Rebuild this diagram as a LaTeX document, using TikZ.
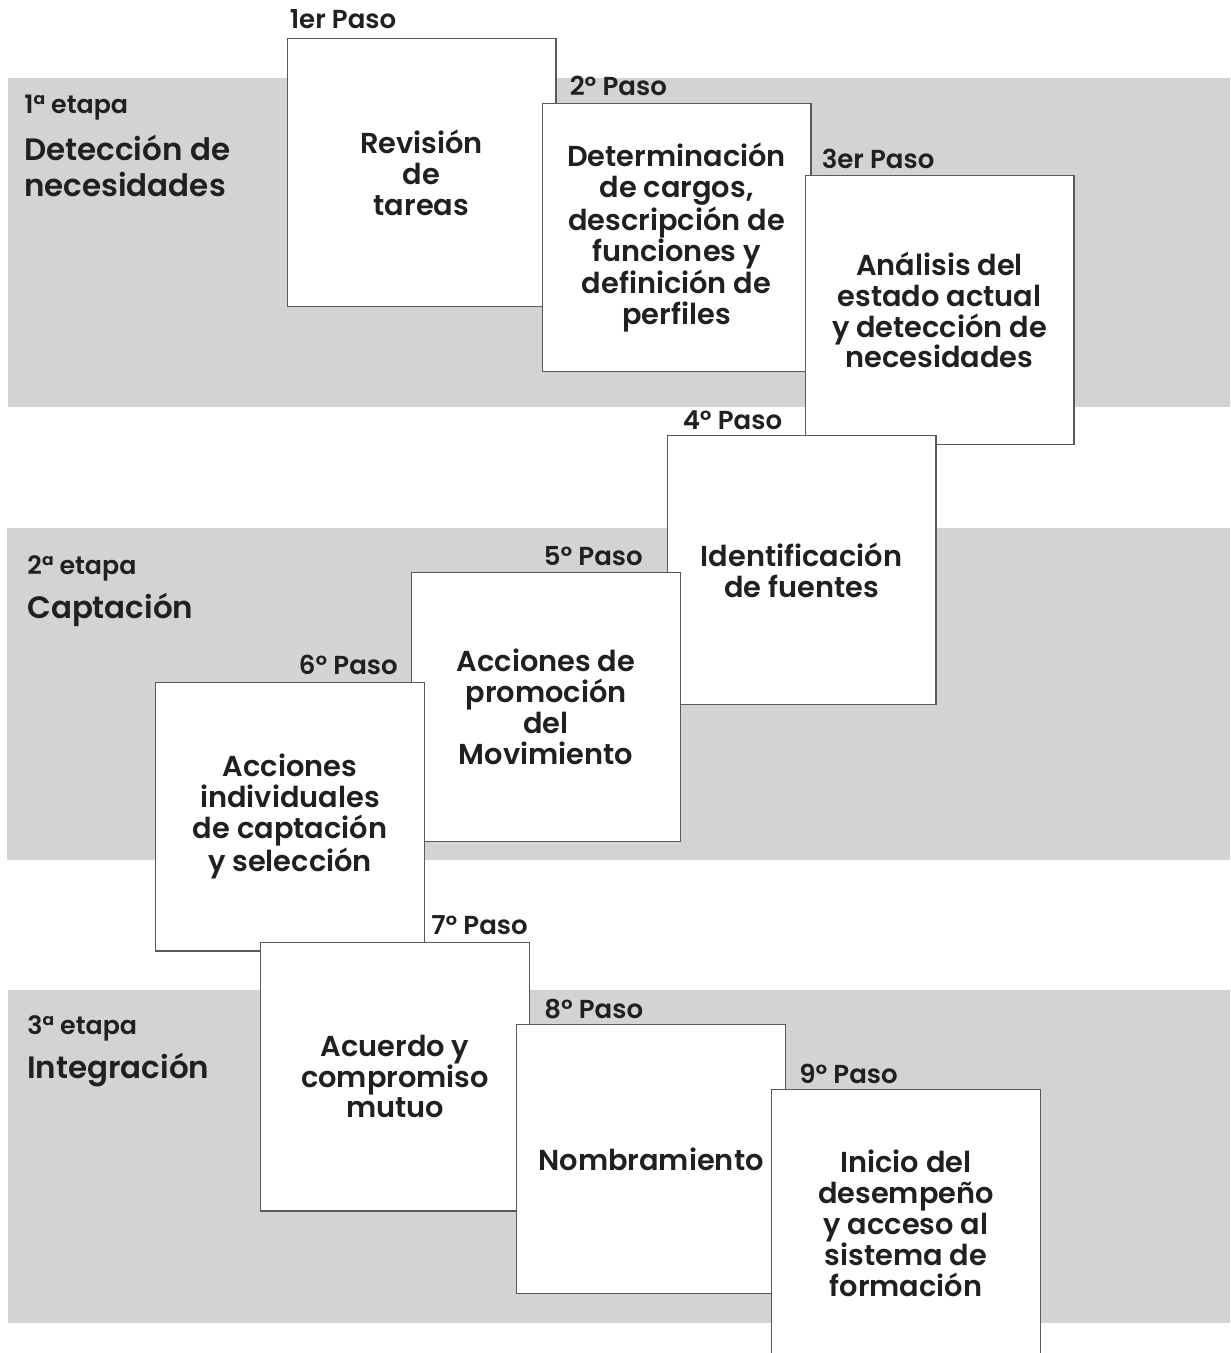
\documentclass[tikz,border=0pt]{standalone}
\usepackage{fontspec}
\setmainfont{Poppins}[BoldFont=* SemiBold]
\usepackage{xcolor}
\usetikzlibrary{positioning}
\definecolor{bandgray}{HTML}{D1D3D4}
\definecolor{inkdark}{HTML}{231F20}
\definecolor{edgegray}{HTML}{58595B}

\begin{document}
\begin{tikzpicture}[
    x=0.025cm, y=-0.025cm,
    band/.style={fill=bandgray, draw=none},
    stepbox/.style={draw=edgegray, fill=white, line width=0.8pt,
                    minimum width=6.72cm, minimum height=6.72cm,
                    align=center, text=inkdark,
                    font=\fontsize{20.5}{22}\selectfont\bfseries},
    paso/.style={inner sep=0pt, text=inkdark,
                 font=\fontsize{18.5}{20}\selectfont\bfseries},
    etapa/.style={inner sep=0pt, text=inkdark, anchor=base west,
                  font=\fontsize{18}{20}\selectfont\bfseries},
    fase/.style={inner sep=0pt, text=inkdark, align=left,
                 font=\fontsize{22}{25}\selectfont\bfseries},
]
\useasboundingbox (0,0) rectangle (1230,1353);

% Bands
\fill[band] (8,78) rectangle (1230,407);
\fill[band] (7,528) rectangle (1230,860);
\fill[band] (8,990) rectangle (1230,1323);

% Steps
\node[stepbox] (p1) at (421.5,172.5) {Revisión\\de\\tareas};
\node[stepbox] (p2) at (676.5,237.5) {Determinación\\de cargos,\\descripción de\\funciones y\\definición de\\perfiles};
\node[stepbox] (p3) at (939.5,310) {Análisis del\\estado actual\\y detección de\\necesidades};
\node[stepbox] (p4) at (801.5,570) {Identificación\\de fuentes};
\node[stepbox] (p5) at (546,707) {Acciones de\\promoción\\del\\Movimiento};
\node[stepbox] (p6) at (290,816.5) {Acciones\\individuales\\de captación\\y selección};
\node[stepbox] (p7) at (395,1076.5) {Acuerdo y\\compromiso\\mutuo};
\node[stepbox] (p8) at (651,1159) {Nombramiento};
\node[stepbox] (p9) at (906,1223.5) {Inicio del\\desempeño\\y acceso al\\sistema de\\formación};

% Step labels
\node[paso, above right=0.2cm and 0.075cm of p1.north west] {1er Paso};
\node[paso, above right=0.15cm and 0.7cm of p2.north west] {2º Paso};
\node[paso, above right=0.15cm and 0.425cm of p3.north west] {3er Paso};
\node[paso, above right=0.12cm and 0.4cm of p4.north west] {4º Paso};
\node[paso, above left=0.15cm and 0.95cm of p5.north east] {5º Paso};
\node[paso, above left=0.15cm and 0.675cm of p6.north east] {6º Paso};
\node[paso, above left=0.15cm and 0.05cm of p7.north east] {7º Paso};
\node[paso, above right=0.13cm and 0.7cm of p8.north west] {8º Paso};
\node[paso, above right=0.1cm and 0.7cm of p9.north west] {9º Paso};

% Stage labels
\node[etapa] (e1) at (24,114) {1ª etapa};
\node[fase, below right=0.36cm and 0cm of e1.south west] {Detección de\\necesidades};
\node[etapa] (e2) at (27,574) {2ª etapa};
\node[fase, below right=0.3cm and 0cm of e2.south west] {Captación};
\node[etapa] (e3) at (27,1034) {3ª etapa};
\node[fase, below right=0.31cm and 0cm of e3.south west] {Integración};
\end{tikzpicture}
\end{document}
